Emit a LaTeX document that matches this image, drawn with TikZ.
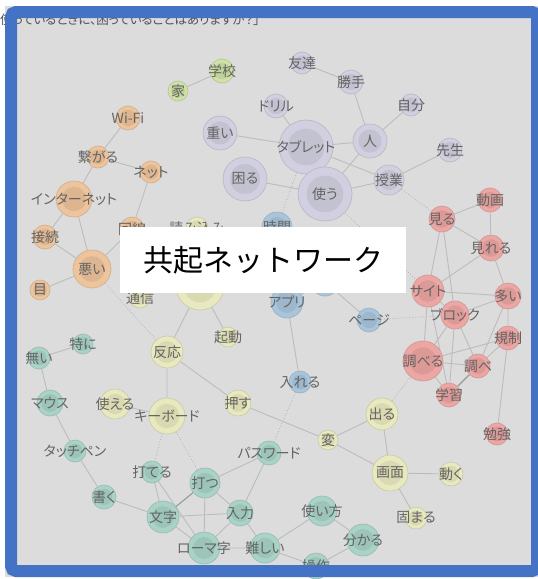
\documentclass[tikz,border=0pt]{standalone}
\usepackage{fontspec}
\newfontfamily\jp[RawFeature=+palt]{Noto Sans CJK JP}
\newfontfamily\jpt{Noto Sans CJK JP}
\pgfdeclarelayer{bg}\pgfdeclarelayer{edges}\pgfdeclarelayer{fg}
\pgfsetlayers{bg,edges,main,fg}
\definecolor{framec}{HTML}{4472C4}
\definecolor{panel}{HTML}{DCDCDC}
\definecolor{cOr}{HTML}{EEC49C}
\definecolor{cLa}{HTML}{D2D0E0}
\definecolor{cGr}{HTML}{CFE2A6}
\definecolor{cYe}{HTML}{E9E9BF}
\definecolor{cBl}{HTML}{A9C5DC}
\definecolor{cRe}{HTML}{EDA6A3}
\definecolor{cTe}{HTML}{A9D3C7}
\definecolor{lbl}{HTML}{646464}
\definecolor{edgec}{HTML}{BCBCBC}
\tikzset{
  nd/.style 2 args={circle, inner sep=0pt, minimum size=2*#1pt, fill=#2,
    draw=#2!72!gray, line width=0.7pt,
    path picture={\fill[#2!93!black] (path picture bounding box.center) circle[radius=0.68*#1pt];}},
  every label/.style={font=\jp\fontsize{14}{14}\selectfont, text=lbl, inner sep=0pt},
  ed/.style={draw=edgec, line width=0.9pt},
  strong/.style={draw=black!40, line width=1.1pt},
  dot/.style={draw=black!30, line width=0.8pt, dotted},
}
\newcommand\netnd[6]{\node[nd={#4}{#5},label={center:#6}] (#1) at (#2,#3) {};}
\begin{document}
\begin{tikzpicture}[x=1pt,y=-1pt]
\useasboundingbox (0,0) rectangle (538,579);
\begin{pgfonlayer}{bg}
\fill[white] (0,0) rectangle (538,579);
\fill[panel] (5,6) rectangle (538,577);
\node[anchor=west, inner sep=0pt, text=black!68, font=\jp\fontsize{12.5}{12.5}\selectfont] (q) at (0,20) {使っているときに、困っていることはありますか？」};
\end{pgfonlayer}
% green
\netnd{ie}{178}{91}{10}{cGr}{家}
\netnd{gakko}{222}{71}{12}{cGr}{学校}
% orange
\netnd{wifi}{128}{118}{12}{cOr}{Wi-Fi}
\netnd{tsunagaru}{98}{157}{11}{cOr}{繋がる}
\netnd{net}{151}{172}{11}{cOr}{ネット}
\netnd{inet}{74}{199}{18}{cOr}{インターネット}
\netnd{setsuzoku}{45}{237}{12}{cOr}{接続}
\netnd{warui}{92}{269}{19}{cOr}{悪い}
\netnd{me}{40}{290}{10}{cOr}{目}
\netnd{kaisen}{132}{229}{12}{cOr}{回線}
% lavender
\netnd{tomo}{302}{63}{11}{cLa}{友達}
\netnd{katte}{351}{82}{12}{cLa}{勝手}
\netnd{jibun}{411}{105}{11}{cLa}{自分}
\netnd{drill}{276}{106}{12}{cLa}{ドリル}
\netnd{omoi}{220}{133}{17}{cLa}{重い}
\netnd{komaru}{245}{179}{22}{cLa}{困る}
\netnd{tab}{306}{147}{27}{cLa}{タブレット}
\netnd{tsukau}{325}{194}{27}{cLa}{使う}
\netnd{hito}{370}{141}{17}{cLa}{人}
\netnd{sensei}{450}{150}{12}{cLa}{先生}
\netnd{jugyo}{389}{180}{15}{cLa}{授業}
% blue
\netnd{jikan}{277}{227}{15}{cBl}{時間}
\netnd{app}{287}{302}{16}{cBl}{アプリ}
\node[nd={14}{cBl}] (hb) at (325,282) {};
\netnd{page}{369}{320}{12}{cBl}{ページ}
\netnd{ireru}{300}{382}{11}{cBl}{入れる}
% yellow
\netnd{yomi}{197}{228}{11}{cYe}{読み込み}
\node[nd={24}{cYe}] (by) at (200,286) {};
\netnd{tsushin}{140}{298}{10}{cYe}{通信}
\netnd{kido}{228}{337}{10}{cYe}{起動}
\netnd{hanno}{167}{352}{16}{cYe}{反応}
\netnd{tsukaeru}{115}{404}{15}{cYe}{使える}
\netnd{kb}{167}{416}{18}{cYe}{キーボード}
\netnd{osu}{238}{403}{13}{cYe}{押す}
\netnd{hen}{328}{440}{10}{cYe}{変}
\netnd{deru}{382}{414}{16}{cYe}{出る}
\netnd{gamen}{390}{473}{18}{cYe}{画面}
\netnd{ugoku}{451}{474}{12}{cYe}{動く}
\netnd{katamaru}{416}{518}{11}{cYe}{固まる}
% red
\netnd{miru}{442}{219}{13}{cRe}{見る}
\netnd{doga}{490}{200}{12}{cRe}{動画}
\netnd{mireru}{491}{248}{13}{cRe}{見れる}
\netnd{site}{428}{291}{16}{cRe}{サイト}
\netnd{ooi}{508}{296}{13}{cRe}{多い}
\netnd{block}{455}{315}{14}{cRe}{ブロック}
\netnd{kisei}{508}{338}{12}{cRe}{規制}
\netnd{shiraberu}{423}{361}{20}{cRe}{調べる}
\netnd{shirabe}{478}{366}{12}{cRe}{調べ}
\netnd{gakushu}{449}{395}{12}{cRe}{学習}
\netnd{benkyo}{497}{434}{11}{cRe}{勉強}
% teal
\netnd{tokuni}{83}{344}{10}{cTe}{特に}
\netnd{nai}{39}{358}{11}{cTe}{無い}
\netnd{mouse}{50}{403}{13}{cTe}{マウス}
\netnd{touch}{75}{451}{11}{cTe}{タッチペン}
\netnd{kaku}{104}{497}{12}{cTe}{書く}
\netnd{uteru}{152}{472}{11}{cTe}{打てる}
\netnd{utsu}{205}{483}{15}{cTe}{打つ}
\netnd{moji}{163}{517}{16}{cTe}{文字}
\netnd{nyuryoku}{240}{513}{13}{cTe}{入力}
\netnd{romaji}{204}{548}{16}{cTe}{ローマ字}
\netnd{muzu}{265}{548}{15}{cTe}{難しい}
\netnd{pass}{269}{453}{12}{cTe}{パスワード}
\netnd{tsukaikata}{322}{511}{15}{cTe}{使い方}
\netnd{wakaru}{363}{540}{16}{cTe}{分かる}
\netnd{sosa}{316}{566}{13}{cTe}{操作}
\begin{pgfonlayer}{edges}
\path[ed] (ie)--(gakko);
\path[ed] (wifi)--(tsunagaru) (tsunagaru)--(net) (tsunagaru)--(inet) (net)--(kaisen)
  (inet)--(setsuzoku) (inet)--(warui) (setsuzoku)--(warui) (warui)--(me) (warui)--(kaisen);
\path[dot] (warui)--(hanno);
\path[ed] (tomo)--(katte) (katte)--(hito) (hito)--(jibun) (tab)--(hito) (drill)--(tab)
  (omoi)--(tab) (komaru)--(tsukau) (tab)--(tsukau) (tab)--(jugyo) (hito)--(tsukau)
  (tsukau)--(jugyo) (jugyo)--(sensei);
\path[dot] (jugyo)--(miru) (tab)--(jikan) (tsukau)--(site);
\path[ed] (app)--(hb) (hb)--(page) (app)--(ireru) (app)--(jikan);
\path[dot] (page)--(block) (ireru)--(pass);
\path[ed] (by)--(hanno) (by)--(kido) (hanno)--(kb) (hanno)--(osu) (tsukaeru)--(kb)
  (osu)--(hen) (hen)--(deru) (hen)--(gamen) (deru)--(gamen) (gamen)--(ugoku) (gamen)--(katamaru);
\path[dot] (kb)--(uteru) (kb)--(utsu) (deru)--(shiraberu);
\path[ed] (miru)--(doga) (miru)--(mireru) (doga)--(mireru) (miru)--(site) (miru)--(block)
  (mireru)--(site) (mireru)--(ooi) (site)--(ooi) (site)--(block) (site)--(shiraberu)
  (site)--(gakushu) (block)--(ooi) (block)--(shiraberu) (block)--(shirabe) (block)--(gakushu)
  (ooi)--(kisei) (ooi)--(shirabe) (kisei)--(shirabe) (kisei)--(shiraberu) (kisei)--(benkyo)
  (shiraberu)--(shirabe) (shiraberu)--(gakushu);
\path[strong] (shirabe)--(gakushu);
\path[ed] (tokuni)--(nai) (nai)--(mouse) (mouse)--(touch) (touch)--(kaku) (kaku)--(moji)
  (uteru)--(moji) (uteru)--(romaji) (utsu)--(romaji) (utsu)--(nyuryoku) (utsu)--(pass)
  (moji)--(nyuryoku) (moji)--(romaji) (nyuryoku)--(romaji) (nyuryoku)--(pass)
  (nyuryoku)--(muzu) (romaji)--(muzu) (muzu)--(tsukaikata) (muzu)--(sosa)
  (tsukaikata)--(wakaru) (wakaru)--(sosa);
\path[strong] (utsu)--(moji);
\end{pgfonlayer}
\begin{pgfonlayer}{fg}
\node[fill=white, inner sep=0pt, minimum width=286pt, minimum height=66pt,
  font=\jpt\fontsize{30}{30}\selectfont, text=black] (title) at (263,260) {共起ネットワーク};
\draw[framec, line width=12pt, rounded corners=5pt] (11,12) rectangle (537,571);
\end{pgfonlayer}
\end{tikzpicture}
\end{document}
